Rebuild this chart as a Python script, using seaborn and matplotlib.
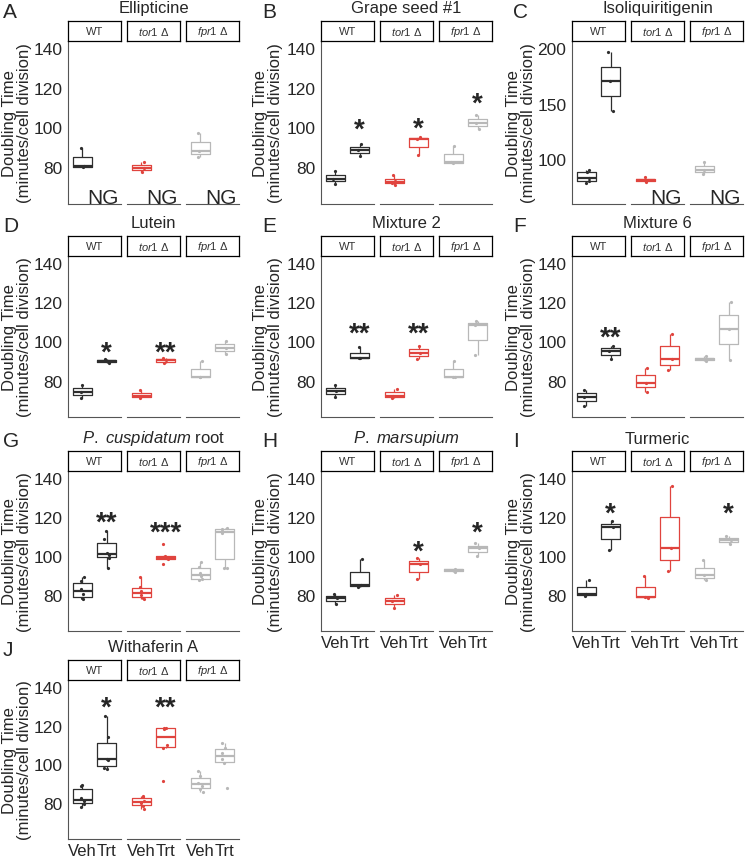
import numpy as np
import pandas as pd
import seaborn as sns
import matplotlib.pyplot as plt

sns.set_style("white")
plt.rcParams["font.family"] = ["Liberation Sans", "DejaVu Sans"]
plt.rcParams["mathtext.fontset"] = "custom"
plt.rcParams["mathtext.rm"] = "Liberation Sans"
plt.rcParams["mathtext.it"] = "Liberation Sans:italic"
np.random.seed(3)

genotypes = ["WT", "tor1", "fpr1"]
strip_labels = ["WT", r"$\it{tor1}$ Δ", r"$\it{fpr1}$ Δ"]
treatments = ["Veh", "Trt"]
colors = ["#2e2e2e", "#e0443e", "#b8b8b8"]

# doubling times (min/cell division), lists are [WT, tor1, fpr1]; empty = no growth
ellipticine_veh = [[80, 80.5, 89.5], [77.5, 79.5, 82.8], [85.3, 88.4, 97]]
ellipticine_trt = [[], [], []]
ellipticine_stars = ["", "", ""]
ellipticine_star_y = [0, 0, 0]

grape_veh = [[71.6, 74.3, 78], [71.3, 72, 73.2, 76], [82.2, 82.4, 90.5]]
grape_trt = [[85.4, 88.5, 91.7], [86, 94, 95], [99.4, 102.1, 106.5]]
grape_stars = ["*", "*", "*"]
grape_star_y = [103.4, 104, 116.5]

isoliq_veh = [[78.3, 80, 82.8, 88, 89.5], [78.8, 80.4, 83.5], [85.8, 89.5, 97]]
isoliq_trt = [[143, 170.2, 196.4], [], []]
isoliq_stars = ["", "", ""]
isoliq_star_y = [0, 0, 0]

lutein_veh = [[71, 74.3, 78], [71, 72.2, 75.5], [81.7, 81.9, 90.2]]
lutein_trt = [[88.8, 90.2, 91.2], [88.8, 90.5, 91.6], [93.8, 96.8, 100.2]]
lutein_stars = ["*", "**", ""]
lutein_star_y = [98.8, 98.8, 0]

mix2_veh = [[71.5, 74.5, 77.8], [71.3, 72.3, 76], [81.9, 82.1, 90.2]]
mix2_trt = [[91.4, 91.6, 96.9], [91, 94.2, 97.9], [93.2, 108.3, 110.4]]
mix2_stars = ["**", "**", ""]
mix2_star_y = [108.4, 108.4, 0]

mix6_veh = [[67.2, 71.8, 75.3], [74.3, 79, 86.4], [90.2, 91, 92.5]]
mix6_trt = [[91, 95.1, 97.8], [85.5, 90.9, 104], [90.6, 106.4, 120.3]]
mix6_stars = ["**", "", ""]
mix6_star_y = [106.4, 0, 0]

cusp_veh = [[78, 78.3, 80.5, 83, 87, 89], [77.8, 78.5, 80, 81.8, 84, 89.3],
            [87.5, 88, 89.5, 91, 94.5, 97]]
cusp_trt = [[93.6, 99, 100.5, 101.5, 108.5, 112.5], [95.8, 98.4, 98.8, 99.4, 100, 106],
            [93.6, 94, 111.5, 113, 114, 114.4]]
cusp_stars = ["**", "***", ""]
cusp_star_y = [121.9, 116.4, 0]

marsup_veh = [[75.4, 78.5, 80.5], [73.4, 77.1, 80.2], [91.8, 92.8, 93.4]]
marsup_trt = [[84.3, 85.1, 98.4], [88.1, 95.7, 99.1], [100, 103.8, 106.7]]
marsup_stars = ["", "*", "*"]
marsup_star_y = [0, 106.7, 116.8]

turmeric_veh = [[79.2, 80.5, 87.5], [78.6, 78.8, 89.6], [87.8, 90, 97.8]]
turmeric_trt = [[102.8, 114.9, 117.9], [92.1, 104.1, 136], [106, 108.2, 110.2]]
turmeric_stars = ["*", "", "*"]
turmeric_star_y = [126.2, 0, 126.2]

withaf_veh = [[77.8, 79.5, 81, 82.5, 89, 89.6], [77.1, 78.5, 80, 81, 83, 83.7],
              [85.5, 87.5, 89, 90.5, 94, 96.8]]
withaf_trt = [[97.6, 98, 102.5, 103, 114, 125], [91.4, 108.5, 110, 118, 118.7, 119],
              [88, 100.5, 103, 106, 108.5, 110.8]]
withaf_stars = ["*", "**", ""]
withaf_star_y = [133.8, 133.8, 0]

panels = [
    ("A", "Ellipticine", ellipticine_veh, ellipticine_trt, ellipticine_stars, ellipticine_star_y),
    ("B", "Grape seed #1", grape_veh, grape_trt, grape_stars, grape_star_y),
    ("C", "Isoliquiritigenin", isoliq_veh, isoliq_trt, isoliq_stars, isoliq_star_y),
    ("D", "Lutein", lutein_veh, lutein_trt, lutein_stars, lutein_star_y),
    ("E", "Mixture 2", mix2_veh, mix2_trt, mix2_stars, mix2_star_y),
    ("F", "Mixture 6", mix6_veh, mix6_trt, mix6_stars, mix6_star_y),
    ("G", r"$\it{P.\ cuspidatum}$ root", cusp_veh, cusp_trt, cusp_stars, cusp_star_y),
    ("H", r"$\it{P.\ marsupium}$", marsup_veh, marsup_trt, marsup_stars, marsup_star_y),
    ("I", "Turmeric", turmeric_veh, turmeric_trt, turmeric_stars, turmeric_star_y),
    ("J", "Withaferin A", withaf_veh, withaf_trt, withaf_stars, withaf_star_y),
]

# layout in pixels
W, H = 745, 862
col_left = [68, 321, 572]
letter_x = [3, 262, 513]
ylab_x = [17, 268, 521]
strip_top = [22, 237, 452, 661]
axes_bottom = [205, 418, 632, 840]
facet_w, gap, strip_h = 53, 6, 20
axis_col = "#555555"

fig = plt.figure(figsize=(W / 100, H / 100), dpi=100)

for k, (letter, title, veh, trt, stars, star_y) in enumerate(panels):
    row, col = divmod(k, 3)
    top = strip_top[row] + strip_h
    bot = axes_bottom[row]
    rows = []
    for g, v, t in zip(genotypes, veh, trt):
        rows += [(g, "Veh", x) for x in v] + [(g, "Trt", x) for x in t]
    df = pd.DataFrame(rows, columns=["genotype", "treatment", "time"])

    for j, g in enumerate(genotypes):
        x0 = col_left[col] + j * (facet_w + gap)
        ax = fig.add_axes([x0 / W, 1 - bot / H, facet_w / W, (bot - top) / H])
        sub = df[df.genotype == g]
        sns.boxplot(data=sub, x="treatment", y="time", order=treatments, fill=False,
                    color=colors[j], width=0.8, showcaps=False, showfliers=False,
                    linewidth=0.9, medianprops={"linewidth": 1.6}, ax=ax)
        sns.stripplot(data=sub, x="treatment", y="time", order=treatments,
                      color=colors[j], size=2.3, jitter=0.12, ax=ax)
        ax.set_xlim(-0.6, 1.6)
        if letter == "C":
            ax.set_ylim(59, 206.6)
            ax.set_yticks([100, 150, 200])
        else:
            ax.set_ylim(61.5, 143.5)
            ax.set_yticks([80, 100, 120, 140])
        ax.set_xlabel("")
        ax.set_ylabel("")
        ax.set_xticks([0, 1])
        if letter in ("H", "I", "J"):
            ax.set_xticklabels(treatments, fontsize=12)
        else:
            ax.set_xticklabels(["", ""])
        for s in ["top", "right"]:
            ax.spines[s].set_visible(False)
        ax.spines["bottom"].set_color(axis_col)
        ax.spines["bottom"].set_linewidth(0.8)
        if j == 0:
            ax.spines["left"].set_color(axis_col)
            ax.spines["left"].set_linewidth(0.8)
            ax.tick_params(axis="y", length=3, color=axis_col, labelsize=12.5, pad=1)
        else:
            ax.spines["left"].set_visible(False)
            ax.tick_params(axis="y", left=False, labelleft=False)
        ax.tick_params(axis="x", length=3, color=axis_col, pad=0)
        ax.patch.set_alpha(0)

        if len(trt[j]) == 0:
            ax.text(0.85, 0.005, "NG", transform=ax.get_xaxis_transform(),
                    fontsize=15, ha="center", va="baseline")
        if stars[j]:
            ax.annotate(stars[j], (1, star_y[j]), xytext=(0, -0.58 * 20),
                        textcoords="offset points", fontsize=20, fontweight="bold",
                        ha="center", va="baseline")

        sx = fig.add_axes([x0 / W, 1 - top / H, facet_w / W, strip_h / H])
        sx.set_xticks([])
        sx.set_yticks([])
        for s in sx.spines.values():
            s.set_color("black")
            s.set_linewidth(0.9)
            s.set_visible(True)
        sx.text(0.5, 0.5, strip_labels[j], ha="center", va="center",
                fontsize=8, color="#333333", transform=sx.transAxes)

    cx = col_left[col] + (3 * facet_w + 2 * gap) / 2
    ty = strip_top[row] - 13
    fig.text(cx / W, 1 - ty / H, title, ha="center", va="center", fontsize=12)
    fig.text(letter_x[col] / W, 1 - (ty + 3) / H, letter, ha="left", va="center", fontsize=15)
    fig.text(ylab_x[col] / W, 1 - ((top + bot) / 2) / H,
             "Doubling Time\n(minutes/cell division)", rotation=90,
             ha="center", va="center", fontsize=12, linespacing=1.05)

fig.savefig("out.png", dpi=100)
